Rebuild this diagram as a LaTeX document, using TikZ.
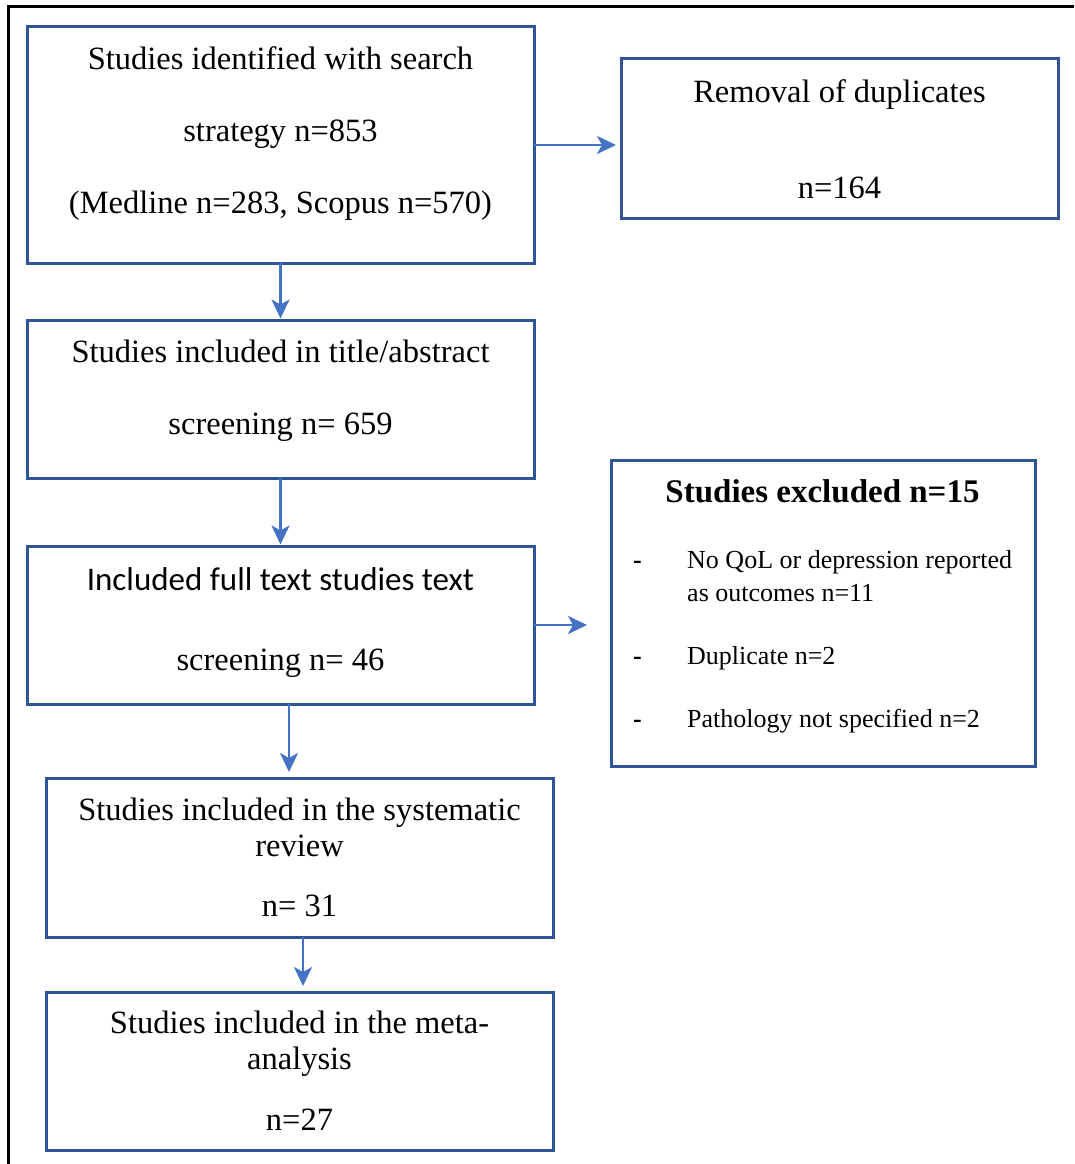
\documentclass[tikz,border=0pt]{standalone}
\usepackage{fontspec}
\setmainfont{Liberation Serif}
\newfontfamily\calibrifont{Carlito}
\usetikzlibrary{arrows.meta, positioning, calc}
\definecolor{boxblue}{RGB}{47, 85, 151}
\definecolor{arrowblue}{RGB}{68, 114, 196}

\begin{document}
\begin{tikzpicture}[x=1pt, y=-1pt,
  stage/.style={draw=boxblue, line width=3pt, inner sep=0pt, outer sep=0pt},
  wide/.style={minimum width=507pt},
  txt/.style={align=center, inner sep=0pt, font=\fontsize{32.5}{72}\selectfont},
  flow/.style={draw=arrowblue, line width=2.5pt, -{Stealth[length=19pt, width=18pt, inset=5pt]}}
]
  % Page frame
  \useasboundingbox (0,0) rectangle (1074,1164);
  \draw[line width=3pt] (1074,7) -- (8,7) -- (8,1164);

  % Boxes
  \node[stage, wide, minimum height=236pt] (ident) at (280.5,145) {};
  \node[stage, minimum width=437pt, minimum height=159pt] (dup) at (839.5,138.5) {};
  \node[stage, wide, minimum height=158pt] (screen) at (280.5,399) {};
  \node[stage, wide, minimum height=158pt] (full) at (280.5,625) {};
  \node[stage, minimum width=424pt, minimum height=306pt] (excl) at (823,613) {};
  \node[stage, wide, minimum height=159pt] (review) at (299.5,857.5) {};
  \node[stage, wide, minimum height=158pt] (meta) at (299.5,1071) {};

  % Texts
  \node[txt] (identtxt) at (280.5,133.5) {Studies identified with search\\strategy n=853\\(Medline n=283, Scopus n=570)};
  \node[txt, font=\fontsize{32.5}{96}\selectfont] (duptxt) at (839.5,139) {Removal of duplicates\\n=164};
  \node[txt] (screentxt) at (280.5,390.5) {Studies included in title/abstract\\screening n= 659};
  \node[txt, font=\fontsize{32.5}{80}\selectfont] (fulltxt) at (280.5,623) {{\calibrifont\fontsize{33}{80}\selectfont Included full text studies text}\\screening n= 46};
  \node[txt, font=\fontsize{32.5}{36}\selectfont] (reviewtxt) at (299.5,857) {Studies included in the systematic\\review\\[24pt]n= 31};
  \node[txt, font=\fontsize{32.5}{36}\selectfont] (metatxt) at (299.5,1070.5) {Studies included in the meta-\\analysis\\[25pt]n=27};

  % Exclusion list
  \node[anchor=base, inner sep=0pt, font=\fontsize{33}{40}\selectfont\bfseries] (excltitle) at (822.5,502) {Studies excluded n=15};
  \node[anchor=base west, inner sep=0pt, font=\fontsize{26}{33}\selectfont] (excllist) at (633,568) {%
    \begin{tabular}[t]{@{}p{54pt}@{}l@{}}
      \textbf{-} & No QoL or depression reported\\
        & as outcomes n=11\\[30pt]
      \textbf{-} & Duplicate n=2\\[30pt]
      \textbf{-} & Pathology not specified n=2
    \end{tabular}};

  % Arrows
  \coordinate (gap) at ($(full.east)+(53,0)$);
  \coordinate (xa) at (289,0);
  \coordinate (xb) at (303,0);
  \draw[flow, shorten >=5pt] (ident.east) -- (ident.east -| dup.west);
  \draw[flow, shorten >=1.5pt] (ident.south) -- (screen.north);
  \draw[flow, shorten >=1.5pt] (screen.south) -- (full.north);
  \draw[flow] (full.east) -- (gap);
  \draw[flow, shorten >=6pt] (full.south -| xa) -- (review.north -| xa);
  \draw[flow, shorten >=6pt] (review.south -| xb) -- (meta.north -| xb);
\end{tikzpicture}
\end{document}
